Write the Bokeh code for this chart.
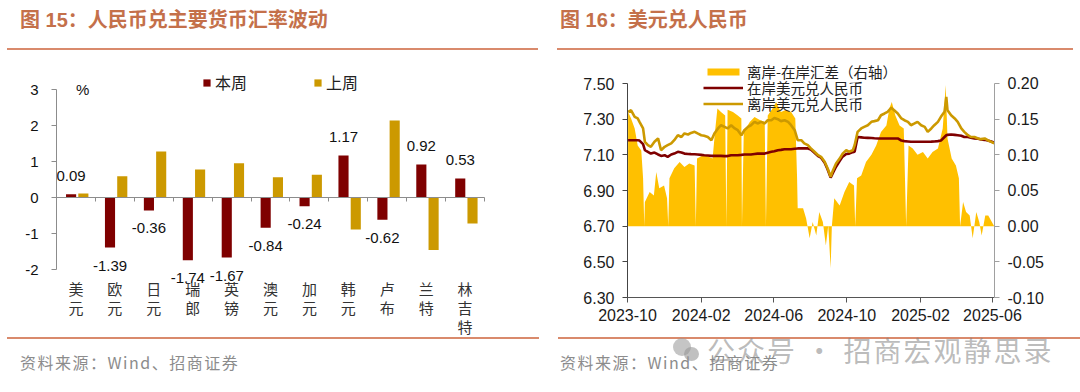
from datetime import datetime
import numpy as np
from bokeh.plotting import figure
from bokeh.models import (Range1d, LinearAxis, FixedTicker, NumeralTickFormatter,
                          DatetimeTickFormatter, Legend, LegendItem, Label,
                          ColumnDataSource, Div)
from bokeh.layouts import row, column
from bokeh.embed import file_html
from bokeh.resources import INLINE
from bokeh.core.properties import value

# ------------------------------------------------------------------ data: 图15
categories = ["美元", "欧元", "日元", "瑞郎", "英镑", "澳元", "加元", "韩元", "卢布", "兰特", "林吉特"]
this_week = [0.09, -1.39, -0.36, -1.74, -1.67, -0.84, -0.24, 1.17, -0.62, 0.92, 0.53]
last_week = [0.11, 0.59, 1.28, 0.78, 0.95, 0.56, 0.63, -0.89, 2.14, -1.46, -0.72]
y_ticks_15 = [-2, -1, 0, 1, 2, 3]

# ------------------------------------------------------------------ data: 图16
line_dates = [
    "2023-10-02", "2023-10-07", "2023-10-13", "2023-10-18", "2023-10-21", "2023-10-27", "2023-10-30", "2023-11-04", "2023-11-09", "2023-11-15",
    "2023-11-21", "2023-11-26", "2023-12-02", "2023-12-07", "2023-12-13", "2023-12-18", "2023-12-24", "2023-12-30", "2024-01-04", "2024-01-10",
    "2024-01-15", "2024-01-21", "2024-01-26", "2024-02-01", "2024-02-06", "2024-02-12", "2024-02-18", "2024-02-23", "2024-02-29", "2024-03-05",
    "2024-03-11", "2024-03-16", "2024-03-22", "2024-03-28", "2024-04-02", "2024-04-08", "2024-04-13", "2024-04-19", "2024-04-24", "2024-04-30",
    "2024-05-05", "2024-05-11", "2024-05-17", "2024-05-22", "2024-05-28", "2024-06-02", "2024-06-08", "2024-06-13", "2024-06-19", "2024-06-25",
    "2024-06-30", "2024-07-06", "2024-07-11", "2024-07-17", "2024-07-22", "2024-07-28", "2024-08-02", "2024-08-08", "2024-08-14", "2024-08-19",
    "2024-08-25", "2024-08-30", "2024-09-04", "2024-09-08", "2024-09-13", "2024-09-19", "2024-09-24", "2024-09-30", "2024-10-05", "2024-10-11",
    "2024-10-14", "2024-10-19", "2024-10-25", "2024-10-30", "2024-11-05", "2024-11-11", "2024-11-16", "2024-11-22", "2024-11-27", "2024-12-03",
    "2024-12-08", "2024-12-14", "2024-12-19", "2024-12-25", "2024-12-31", "2025-01-05", "2025-01-11", "2025-01-16", "2025-01-22", "2025-01-27",
    "2025-02-02", "2025-02-08", "2025-02-13", "2025-02-19", "2025-02-24", "2025-03-02", "2025-03-07", "2025-03-13", "2025-03-16", "2025-03-18",
    "2025-03-24", "2025-03-30", "2025-04-04", "2025-04-10", "2025-04-15", "2025-04-21", "2025-04-26", "2025-05-02", "2025-05-08", "2025-05-13",
    "2025-05-19", "2025-05-24", "2025-05-30", "2025-06-04",
]
offshore = [
    7.341, 7.350, 7.313, 7.304, 7.285, 7.248, 7.173, 7.154, 7.145, 7.173,
    7.192, 7.126, 7.145, 7.154, 7.164, 7.182, 7.210, 7.200, 7.220, 7.214,
    7.223, 7.229, 7.220, 7.210, 7.207, 7.200, 7.182, 7.220, 7.248, 7.266,
    7.257, 7.248, 7.266, 7.248, 7.238, 7.210, 7.238, 7.257, 7.266, 7.285,
    7.276, 7.285, 7.276, 7.294, 7.294, 7.307, 7.300, 7.289, 7.294, 7.285,
    7.266, 7.238, 7.182, 7.182, 7.164, 7.154, 7.136, 7.117, 7.098, 7.089,
    7.061, 7.023, 6.977, 7.014, 7.051, 7.079, 7.107, 7.126, 7.117, 7.126,
    7.154, 7.229, 7.248, 7.257, 7.266, 7.285, 7.289, 7.294, 7.322, 7.332,
    7.341, 7.364, 7.350, 7.332, 7.304, 7.294, 7.285, 7.266, 7.276, 7.285,
    7.266, 7.257, 7.229, 7.248, 7.266, 7.285, 7.313, 7.341, 7.425, 7.350,
    7.322, 7.304, 7.285, 7.248, 7.229, 7.210, 7.200, 7.200, 7.192, 7.188,
    7.192, 7.182, 7.173, 7.164,
]
onshore = [
    7.182, 7.182, 7.182, 7.182, 7.180, 7.160, 7.126, 7.117, 7.107, 7.113,
    7.102, 7.094, 7.098, 7.089, 7.102, 7.107, 7.117, 7.113, 7.107, 7.105,
    7.104, 7.103, 7.102, 7.100, 7.098, 7.096, 7.094, 7.094, 7.094, 7.094,
    7.093, 7.093, 7.098, 7.098, 7.098, 7.100, 7.102, 7.102, 7.102, 7.105,
    7.107, 7.107, 7.107, 7.112, 7.117, 7.120, 7.126, 7.128, 7.131, 7.131,
    7.131, 7.134, 7.136, 7.136, 7.136, 7.136, 7.130, 7.112, 7.093, 7.084,
    7.056, 7.018, 6.972, 7.000, 7.033, 7.065, 7.090, 7.105, 7.107, 7.115,
    7.117, 7.200, 7.198, 7.196, 7.195, 7.194, 7.193, 7.192, 7.192, 7.192,
    7.192, 7.192, 7.192, 7.192, 7.180, 7.177, 7.175, 7.173, 7.173, 7.173,
    7.173, 7.173, 7.173, 7.174, 7.175, 7.177, 7.180, 7.200, 7.210, 7.212,
    7.214, 7.212, 7.210, 7.207, 7.200, 7.200, 7.196, 7.192, 7.190, 7.186,
    7.184, 7.180, 7.175, 7.168,
]
spread_dates = [
    "2023-10-02", "2023-10-07", "2023-10-13", "2023-10-18", "2023-10-24", "2023-10-27", "2023-10-29", "2023-10-30", "2023-11-07", "2023-11-14",
    "2023-11-18", "2023-11-23", "2023-12-01", "2023-12-06", "2023-12-08", "2023-12-10", "2023-12-18", "2023-12-27", "2024-01-04", "2024-01-12",
    "2024-01-21", "2024-01-23", "2024-01-25", "2024-02-06", "2024-02-20", "2024-02-24", "2024-02-28", "2024-03-05", "2024-03-12", "2024-03-14",
    "2024-03-16", "2024-03-25", "2024-04-02", "2024-04-08", "2024-04-09", "2024-04-12", "2024-04-22", "2024-04-30", "2024-05-08", "2024-05-17",
    "2024-05-19", "2024-05-22", "2024-05-30", "2024-06-05", "2024-06-13", "2024-06-22", "2024-06-30", "2024-07-07", "2024-07-10", "2024-07-11",
    "2024-07-20", "2024-07-25", "2024-07-31", "2024-08-05", "2024-08-11", "2024-08-16", "2024-08-22", "2024-08-27", "2024-08-31", "2024-09-04",
    "2024-09-06", "2024-09-10", "2024-09-19", "2024-09-27", "2024-10-05", "2024-10-13", "2024-10-15", "2024-10-18", "2024-10-25", "2024-11-02",
    "2024-11-11", "2024-11-19", "2024-11-27", "2024-12-06", "2024-12-11", "2024-12-15", "2024-12-21", "2024-12-28", "2025-01-04", "2025-01-08",
    "2025-01-12", "2025-01-19", "2025-01-27", "2025-02-05", "2025-02-13", "2025-02-21", "2025-03-02", "2025-03-10", "2025-03-15", "2025-03-18",
    "2025-03-25", "2025-04-01", "2025-04-06", "2025-04-08", "2025-04-13", "2025-04-18", "2025-04-24", "2025-04-29", "2025-05-05", "2025-05-10",
    "2025-05-14", "2025-05-20", "2025-05-25", "2025-05-31", "2025-06-04",
]
spread = [
    0.160, 0.151, 0.137, 0.113, 0.106, 0.067, 0.000, 0.034, 0.048, 0.043,
    0.076, 0.053, 0.057, 0.039, 0.000, 0.067, 0.081, 0.090, 0.083, 0.088,
    0.085, 0.000, 0.095, 0.100, 0.095, 0.132, 0.165, 0.160, 0.155, 0.000,
    0.163, 0.160, 0.155, 0.151, 0.000, 0.132, 0.146, 0.153, 0.149, 0.146,
    0.000, 0.155, 0.165, 0.174, 0.160, 0.163, 0.160, 0.151, 0.067, 0.025,
    0.025, 0.011, -0.017, 0.006, -0.013, 0.020, 0.006, -0.027, 0.001, -0.059,
    0.000, 0.039, 0.029, 0.048, 0.062, 0.057, 0.000, 0.067, 0.071, 0.090,
    0.100, 0.113, 0.132, 0.141, 0.165, 0.174, 0.155, 0.141, 0.137, 0.000,
    0.113, 0.109, 0.100, 0.104, 0.095, 0.104, 0.109, 0.137, 0.198, 0.123,
    0.095, 0.085, 0.067, 0.000, 0.034, 0.020, 0.015, -0.017, 0.020, 0.006,
    -0.013, 0.015, 0.015, 0.006, 0.000,
]
x_tick_labels_16 = ["2023-10", "2024-02", "2024-06", "2024-10", "2025-02", "2025-06"]
y_ticks_16 = [6.30, 6.50, 6.70, 6.90, 7.10, 7.30, 7.50]
y2_ticks_16 = [-0.10, -0.05, 0.00, 0.05, 0.10, 0.15, 0.20]

# ------------------------------------------------------------------ styles
NUM_FONT = "Liberation Sans"
CJK_FONT = "Noto Sans CJK SC"
RED = "#7F0000"
GOLD = "#CC9900"
AREA = "#FFC000"
TITLE_COLOR = "#C4704A"
RULE_COLOR = "#D98A6C"

# ------------------------------------------------------------------ 图15 figure
n = len(categories)
xi = np.arange(n)
src15 = ColumnDataSource(dict(
    x_red=xi + 0.375,
    x_gold=xi + 0.69,
    this=this_week,
    last=last_week,
    lab=[f"{v:.2f}" for v in this_week],
    lab_off=[-18 if v >= 0 else 18 for v in this_week],
))
chars = dict(x=[], ch=[], off=[])
for i, c in enumerate(categories):
    for j, ch in enumerate(c):
        chars["x"].append(i + 0.5)
        chars["ch"].append(ch)
        chars["off"].append(19 + 19 * j)
src_chars = ColumnDataSource(chars)

p1 = figure(width=540, height=287, x_range=Range1d(0, 12.18), y_range=Range1d(-3.861, 3.75),
            output_backend="svg", toolbar_location=None,
            x_axis_location=None, y_axis_location=None,
            min_border_left=56, min_border_right=10, min_border_top=12, min_border_bottom=1)
p1.outline_line_color = None
p1.background_fill_color = None
p1.border_fill_color = None
p1.xgrid.visible = False
p1.ygrid.visible = False

r_red = p1.vbar(x="x_red", top="this", bottom=0, width=0.26, source=src15,
                fill_color=RED, line_color=None)
r_gold = p1.vbar(x="x_gold", top="last", bottom=0, width=0.26, source=src15,
                 fill_color=GOLD, line_color=None)

yax1 = LinearAxis(ticker=FixedTicker(ticks=y_ticks_15), bounds=(min(y_ticks_15), max(y_ticks_15)),
                  formatter=NumeralTickFormatter(format="0"))
yax1.axis_line_color = "#8C8C8C"
yax1.major_tick_line_color = "#8C8C8C"
yax1.major_tick_out = 5
yax1.major_tick_in = 0
yax1.minor_tick_line_color = None
yax1.major_label_text_font = NUM_FONT
yax1.major_label_text_font_size = "15px"
yax1.major_label_text_color = "#111111"
yax1.major_label_standoff = 13
p1.add_layout(yax1, "left")

xax1 = LinearAxis(ticker=FixedTicker(ticks=list(range(n + 1))), bounds=(0, n), fixed_location=0,
                  major_label_overrides={k: "" for k in range(n + 1)})
xax1.axis_line_color = "#8C8C8C"
xax1.major_tick_line_color = "#8C8C8C"
xax1.major_tick_in = 4
xax1.major_tick_out = 0
xax1.minor_tick_line_color = None
xax1.major_label_standoff = 0
p1.add_layout(xax1, "above")

p1.text(x="x_red", y="this", text="lab", y_offset="lab_off", source=src15,
        text_align="center", text_baseline="middle",
        text_font=value(NUM_FONT), text_font_size="15px", text_color="#111111")

p1.text(x="x", y=min(y_ticks_15), text="ch", y_offset="off", source=src_chars,
        text_align="center", text_baseline="middle",
        text_font=value(CJK_FONT), text_font_size="15px", text_color="#333333")

p1.add_layout(Label(x=0.67, y=3, text="%", text_align="center", text_baseline="middle",
                    text_font=NUM_FONT, text_font_size="15px", text_color="#111111"))

leg1 = Legend(items=[LegendItem(label="本周", renderers=[r_red]),
                     LegendItem(label="上周", renderers=[r_gold])],
              orientation="horizontal", location=(146, 242),
              glyph_width=9, glyph_height=9, label_standoff=4, spacing=66,
              padding=0, margin=0, border_line_color=None, background_fill_alpha=0,
              label_text_font=CJK_FONT, label_text_font_size="16px", label_text_color="#222222")
p1.add_layout(leg1)

# ------------------------------------------------------------------ 图16 figure
ld = [datetime.strptime(d, "%Y-%m-%d") for d in line_dates]
sd = [datetime.strptime(d, "%Y-%m-%d") for d in spread_dates]
src_lines = ColumnDataSource(dict(x=ld, on=onshore, off=offshore))
src_spread = ColumnDataSource(dict(x=sd, s=spread, zero=[0.0] * len(sd)))

p2 = figure(width=540, height=287, x_axis_type="datetime",
            x_range=Range1d(datetime(2023, 10, 1), datetime(2025, 6, 4, 10)),
            y_range=Range1d(6.30, 7.629),
            output_backend="svg", toolbar_location=None,
            min_border_left=87, min_border_right=86, min_border_top=10, min_border_bottom=40)
p2.extra_y_ranges = {"spread": Range1d(-0.10, 0.2322)}
p2.outline_line_color = None
p2.xgrid.visible = False
p2.ygrid.visible = False
p2.background_fill_color = None
p2.border_fill_color = None

r_area = p2.varea(x="x", y1="zero", y2="s", source=src_spread, y_range_name="spread",
                  fill_color=AREA)
r_on = p2.line(x="x", y="on", source=src_lines, line_color=RED, line_width=2.6)
r_off = p2.line(x="x", y="off", source=src_lines, line_color=GOLD, line_width=2.6)

epoch = datetime(1970, 1, 1)
xt = [(datetime.strptime(s, "%Y-%m") - epoch).total_seconds() * 1000 for s in x_tick_labels_16]
xa = p2.xaxis[0]
xa.ticker = FixedTicker(ticks=xt)
xa.formatter = DatetimeTickFormatter(years="%Y-%m", months="%Y-%m", days="%Y-%m", hours="%Y-%m")
xa.axis_line_color = "#555555"
xa.major_tick_line_color = "#555555"
xa.major_tick_out = 5
xa.major_tick_in = 0
xa.minor_tick_line_color = None
xa.major_label_text_font = NUM_FONT
xa.major_label_text_font_size = "16px"
xa.major_label_text_color = "#1a1a1a"
xa.major_label_standoff = 6

ya = p2.yaxis[0]
ya.ticker = FixedTicker(ticks=y_ticks_16)
ya.bounds = (min(y_ticks_16), max(y_ticks_16))
ya.formatter = NumeralTickFormatter(format="0.00")
ya.axis_line_color = "#444444"
ya.major_tick_line_color = "#444444"
ya.major_tick_out = 5
ya.major_tick_in = 0
ya.minor_tick_line_color = None
ya.major_label_text_font = NUM_FONT
ya.major_label_text_font_size = "16px"
ya.major_label_text_color = "#1a1a1a"
ya.major_label_standoff = 8

ya2 = LinearAxis(y_range_name="spread", ticker=FixedTicker(ticks=y2_ticks_16),
                 bounds=(min(y2_ticks_16), max(y2_ticks_16)),
                 formatter=NumeralTickFormatter(format="0.00"))
ya2.axis_line_color = "#A0A0A0"
ya2.major_tick_line_color = "#A0A0A0"
ya2.major_tick_out = 5
ya2.major_tick_in = 0
ya2.minor_tick_line_color = None
ya2.major_label_text_font = NUM_FONT
ya2.major_label_text_font_size = "16px"
ya2.major_label_text_color = "#1a1a1a"
ya2.major_label_standoff = 8
p2.add_layout(ya2, "right")

# one legend per row so the row pitch matches the reference
leg_rows = [("离岸-在岸汇差（右轴）", r_area, 215),
            ("在岸美元兑人民币", r_on, 199),
            ("离岸美元兑人民币", r_off, 183)]
for lab, rend, yloc in leg_rows:
    lg = Legend(items=[LegendItem(label=lab, renderers=[rend])],
                location=(76, yloc), glyph_width=40, glyph_height=9, label_standoff=4,
                label_height=15, spacing=0, padding=0, margin=0,
                border_line_color=None, background_fill_alpha=0,
                label_text_font=CJK_FONT, label_text_font_size="14.5px", label_text_color="#222222")
    p2.add_layout(lg)

# ------------------------------------------------------------------ titles / sources
def title_div(text, text_left, line_left, line_width):
    html = (
        '<div style="position:relative;width:540px;height:50px;overflow:visible;">'
        f'<div style="position:absolute;left:{text_left}px;top:9px;line-height:22px;white-space:nowrap;'
        f'font-family:\'Liberation Sans\',\'Noto Sans CJK SC\',sans-serif;font-weight:bold;'
        f'font-size:20px;color:{TITLE_COLOR};">{text}</div>'
        f'<div style="position:absolute;left:{line_left}px;top:48px;width:{line_width}px;height:2px;'
        f'background:{RULE_COLOR};"></div>'
        '</div>'
    )
    return Div(text=html, width=540, height=50, margin=0)


def source_div(text_left, line_left, line_width, watermark=False):
    wm = ""
    if watermark:
        wm = (
            '<div style="position:absolute;left:133px;top:1px;width:18px;height:18px;border-radius:50%;'
            'background:rgba(150,150,150,0.55);"></div>'
            '<div style="position:absolute;left:144px;top:10px;width:15px;height:14px;border-radius:50%;'
            'background:rgba(150,150,150,0.6);"></div>'
            '<div style="position:absolute;left:167px;top:-3px;line-height:32px;white-space:nowrap;'
            'letter-spacing:2px;'
            'font-family:\'Noto Sans CJK SC\',sans-serif;font-size:28px;color:rgba(130,130,130,0.55);">'
            '公众号 · 招商宏观静思录</div>'
        )
    html = (
        '<div style="position:relative;width:540px;height:55px;overflow:visible;">'
        f'<div style="position:absolute;left:{line_left}px;top:0px;width:{line_width}px;height:2px;'
        f'background:{RULE_COLOR};"></div>'
        f'<div style="position:absolute;left:{text_left}px;top:15px;line-height:20px;white-space:nowrap;'
        'letter-spacing:1.5px;'
        'font-family:\'Noto Sans CJK SC\',sans-serif;font-size:16px;color:#8c8c8c;">'
        '资料来源：Wind、招商证券</div>'
        + wm +
        '</div>'
    )
    return Div(text=html, width=540, height=55, margin=0)


left = column(title_div("图 15：人民币兑主要货币汇率波动", 20, 7, 531), p1,
              source_div(20, 7, 532), spacing=0)
right = column(title_div("图 16：美元兑人民币", 20, 17, 516), p2,
               source_div(20, 18, 522, watermark=True), spacing=0)
layout = row(left, right, spacing=0)

open("out.html", "w").write(file_html(layout, INLINE))
